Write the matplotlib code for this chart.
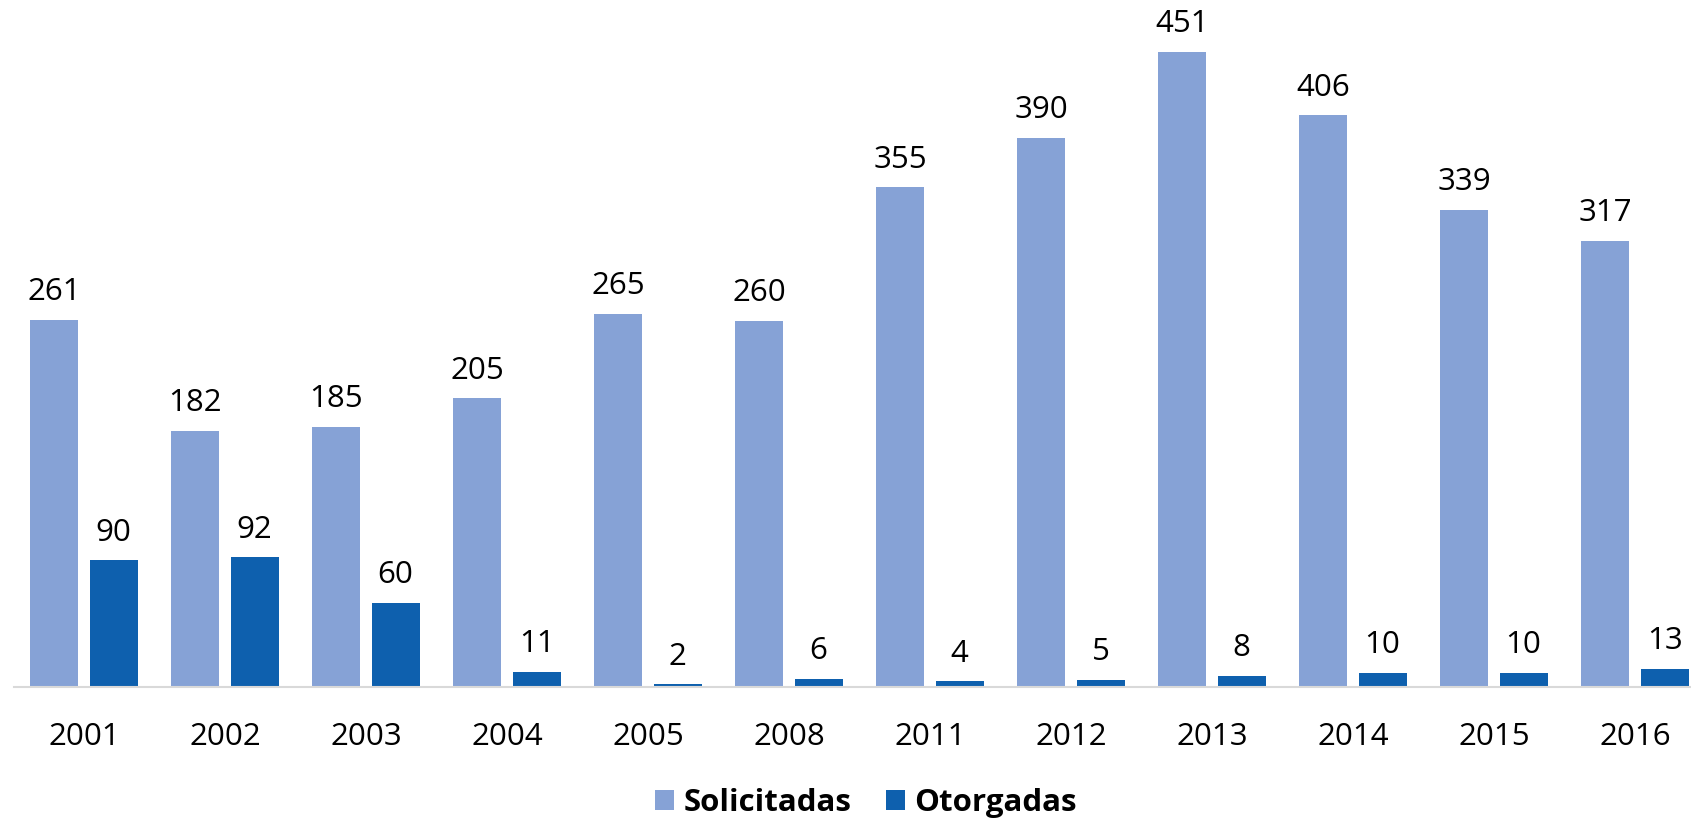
import matplotlib
matplotlib.use("Agg")
import matplotlib.pyplot as plt
import numpy as np

years = ["2001", "2002", "2003", "2004", "2005", "2008", "2011", "2012", "2013", "2014", "2015", "2016"]
solicitadas = [261, 182, 185, 205, 265, 260, 355, 390, 451, 406, 339, 317]
otorgadas = [90, 92, 60, 11, 2, 6, 4, 5, 8, 10, 10, 13]

plt.rcParams['font.family'] = ['Open Sans', 'DejaVu Sans']

W, H = 1691, 818
fig = plt.figure(figsize=(W / 100, H / 100), dpi=100)
left_px, right_px = 13.5, 1705.5
base_px = 687
ax = fig.add_axes([left_px / W, 1 - base_px / H, (right_px - left_px) / W, base_px / H])

x = np.arange(len(years))
bw = 0.34
off = 0.21
c1 = "#86A2D6"
c2 = "#0E60AE"
b1 = ax.bar(x - off, solicitadas, bw, color=c1, label="Solicitadas", zorder=2)
b2 = ax.bar(x + off, otorgadas, bw, color=c2, label="Otorgadas", zorder=2)

ax.bar_label(b1, labels=[str(v) for v in solicitadas], padding=9, fontsize=22.5, color="#000000")
ax.bar_label(b2, labels=[str(v) for v in otorgadas], padding=9, fontsize=22.5, color="#000000")

ax.set_xlim(-0.5, len(years) - 0.5)
ax.set_ylim(0, base_px / 1.408)
ax.set_xticks(x)
ax.set_xticklabels(years, fontsize=22.5)
ax.tick_params(axis='x', length=0, pad=25)
ax.set_yticks([])
for s in ["top", "right", "left"]:
    ax.spines[s].set_visible(False)
ax.spines["bottom"].set_color("#D9D9D9")
ax.spines["bottom"].set_linewidth(1.5)
ax.spines["bottom"].set_zorder(3)

leg = fig.legend(handles=[b1, b2], labels=["Solicitadas", "Otorgadas"], loc="center",
                 bbox_to_anchor=(866 / W, 1 - 803 / H), ncol=2, frameon=False,
                 prop={'size': 22.5, 'weight': 'bold'}, handlelength=0.62, handleheight=0.62,
                 handletextpad=0.3, columnspacing=1.1, borderpad=0, borderaxespad=0)

fig.savefig("out.png", dpi=100)
